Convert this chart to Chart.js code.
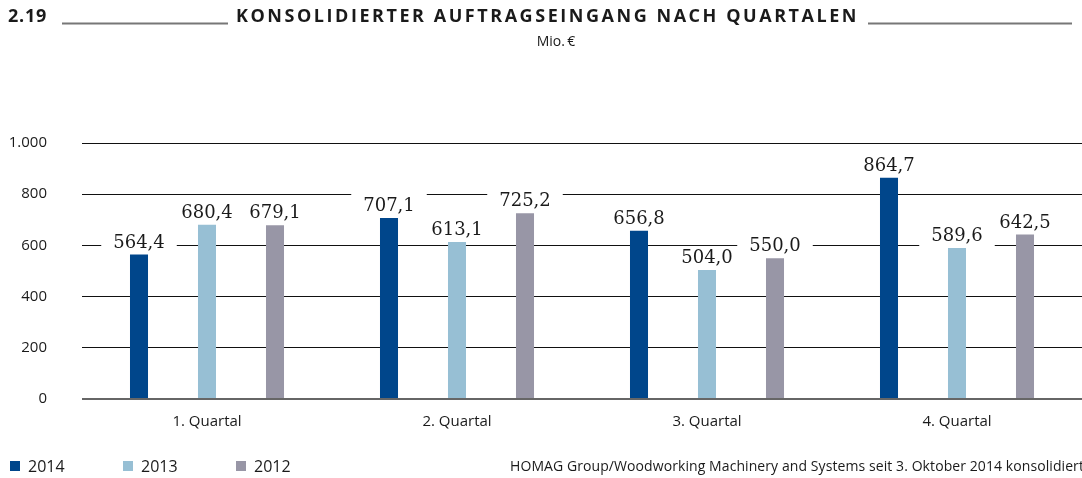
<!DOCTYPE html>
<html>
<head>
<meta charset="utf-8">
<script src="https://cdn.jsdelivr.net/npm/chart.js@4"></script>
<style>
  body { margin: 0; background: #fff; }
  #wrap { width: 1082px; height: 478px; }
</style>
</head>
<body>
<div id="wrap"><canvas id="ordersChart" width="1082" height="478"></canvas></div>
<script>
const quarters = ["1. Quartal", "2. Quartal", "3. Quartal", "4. Quartal"];
const orders2014 = [564.4, 707.1, 656.8, 864.7];
const orders2013 = [680.4, 613.1, 504.0, 589.6];
const orders2012 = [679.1, 725.2, 550.0, 642.5];
const years = ["2014", "2013", "2012"];
const colors = ["#00468b", "#97bfd4", "#9896a6"];

const titleNo = "2.19";
const titleText = "KONSOLIDIERTER AUFTRAGSEINGANG NACH QUARTALEN";
const unitText = "Mio.\u2009\u20ac";
const noteText = "HOMAG Group/Woodworking Machinery and Systems seit 3. Oktober 2014 konsolidiert";

function deNumber(v) {
    return String(v).replace(/\B(?=(\d{3})+(?!\d))/g, ".");
}

function deDecimal(v) {
    return v.toFixed(1).replace(".", ",");
}

// fit text to a given width by spreading the letters
function spreadText(ctx, txt, x, y, width) {
    ctx.letterSpacing = "0px";
    const raw = ctx.measureText(txt).width;
    ctx.letterSpacing = ((width - raw) / txt.length) + "px";
    ctx.fillText(txt, x, y);
    ctx.letterSpacing = "0px";
}

// labels with white box, header, legend, footnote
const extrasPlugin = {
    id: "extras",
    afterDatasetsDraw(chart) {
        const ctx = chart.ctx;
        ctx.save();
        ctx.font = "18px 'DejaVu Serif'";
        ctx.textAlign = "center";
        ctx.textBaseline = "alphabetic";
        chart.data.datasets.forEach((ds, i) => {
            chart.getDatasetMeta(i).data.forEach((bar, j) => {
                const txt = deDecimal(ds.data[j]);
                const w = ctx.measureText(txt).width;
                const base = bar.y - 7;
                ctx.fillStyle = "#fff";
                ctx.fillRect(bar.x - w / 2 - 12, base - 17, w + 24, 22);
                ctx.fillStyle = "#1a1a1a";
                ctx.fillText(txt, bar.x, base);
            });
        });
        ctx.restore();
    },
    afterDraw(chart) {
        const ctx = chart.ctx;
        ctx.save();
        ctx.fillStyle = "#1a1a1a";
        ctx.textBaseline = "middle";
        ctx.textAlign = "left";

        ctx.font = "bold 18px 'Open Sans'";
        spreadText(ctx, titleNo, 8, 17, 39);

        ctx.font = "bold 18px 'Open Sans'";
        spreadText(ctx, titleText, 236, 17, 623);

        ctx.strokeStyle = "#777";
        ctx.lineWidth = 2;
        ctx.beginPath();
        ctx.moveTo(62, 23.5); ctx.lineTo(228, 23.5);
        ctx.moveTo(868, 23.5); ctx.lineTo(1072, 23.5);
        ctx.stroke();

        ctx.font = "14px 'Open Sans'";
        ctx.textAlign = "center";
        ctx.fillText(unitText, 556, 42);

        // legend
        ctx.font = "16px 'Open Sans'";
        ctx.textAlign = "left";
        const legendX = [10, 123, 236];
        years.forEach((y, i) => {
            ctx.fillStyle = colors[i];
            ctx.fillRect(legendX[i], 461, 10, 10);
            ctx.fillStyle = "#1a1a1a";
            ctx.fillText(y, legendX[i] + 18, 467);
        });

        ctx.font = "14px 'Open Sans'";
        spreadText(ctx, noteText, 510, 467, 574);
        ctx.restore();
    }
};

new Chart(document.getElementById("ordersChart"), {
    type: "bar",
    data: {
        labels: quarters,
        datasets: [
            { label: years[0], data: orders2014, backgroundColor: colors[0] },
            { label: years[1], data: orders2013, backgroundColor: colors[1] },
            { label: years[2], data: orders2012, backgroundColor: colors[2] }
        ]
    },
    options: {
        responsive: false,
        animation: false,
        categoryPercentage: 0.816,
        barPercentage: 0.265,
        layout: { padding: { top: 143, bottom: 39, left: 0, right: 0 } },
        plugins: { legend: { display: false }, tooltip: { enabled: false } },
        scales: {
            x: {
                grid: { display: false },
                border: { display: false },
                ticks: { color: "#1a1a1a", font: { family: "'Open Sans'", size: 15 }, padding: 6 },
                afterFit(scale) { scale.height = 40; }
            },
            y: {
                min: 0,
                max: 1000,
                ticks: {
                    stepSize: 200,
                    padding: 35,
                    color: "#1a1a1a",
                    font: { family: "'Open Sans'", size: 15 },
                    callback: v => deNumber(v)
                },
                grid: {
                    drawTicks: false,
                    color: c => c.tick.value === 0 ? "#666" : "#111",
                    lineWidth: c => c.tick.value === 0 ? 2 : 1
                },
                border: { display: false },
                afterFit(scale) { scale.width = 82; }
            }
        }
    },
    plugins: [extrasPlugin]
});
</script>
</body>
</html>
